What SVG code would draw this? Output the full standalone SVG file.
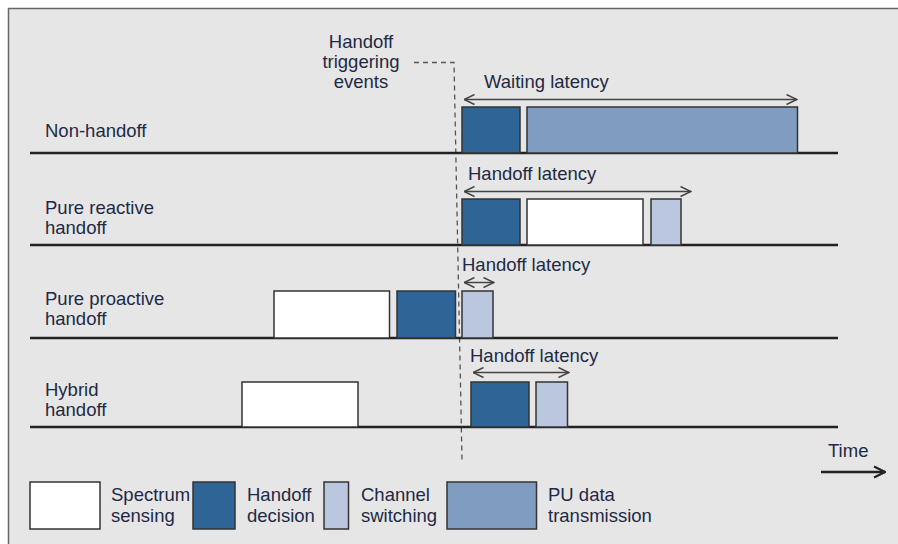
<svg xmlns="http://www.w3.org/2000/svg" width="898" height="544" viewBox="0 0 898 544">
  <defs>
    <style>
      .t { font-family: "Liberation Sans", Arial, sans-serif; font-size: 18.5px; fill: #1e2a45; }
      .base { stroke: #222; stroke-width: 2.5; fill: none; }
      .box { stroke: #333; stroke-width: 1.5; }
      .sense { fill: #ffffff; }
      .dec { fill: #2e6496; }
      .sw { fill: #bac7df; }
      .pu { fill: #819cc1; }
      .lat { stroke: #444; stroke-width: 1.5; fill: none; marker-start: url(#chev); marker-end: url(#chev); }
    </style>
    <marker id="chev" viewBox="0 0 12 12" refX="11.5" refY="6" markerWidth="12" markerHeight="12" markerUnits="userSpaceOnUse" orient="auto-start-reverse">
      <path d="M1,1 L11.5,6 L1,11" fill="none" stroke="#444" stroke-width="1.5"/>
    </marker>
    <marker id="timeArrow" viewBox="0 0 14 14" refX="13" refY="7" markerWidth="14" markerHeight="14" markerUnits="userSpaceOnUse" orient="auto">
      <path d="M2,1.5 L13,7 L2,12.5" fill="none" stroke="#222" stroke-width="2.2"/>
    </marker>
  </defs>

  <!-- background frame -->
  <rect x="0" y="0" width="898" height="544" fill="#ffffff"/>
  <rect x="8.5" y="8.5" width="900" height="540" fill="#e6e6e6" stroke="#666" stroke-width="1.5"/>

  <g id="connectors">
    <!-- trigger dashed line -->
    <path d="M414,62.5 L454,62.5 L462,460" fill="none" stroke="#555" stroke-width="1.3" stroke-dasharray="5,4"/>
    <!-- time baselines -->
    <line class="base" x1="30" y1="153" x2="838" y2="153"/>
    <line class="base" x1="30" y1="245" x2="838" y2="245"/>
    <line class="base" x1="30" y1="338" x2="838" y2="338"/>
    <line class="base" x1="30" y1="427" x2="838" y2="427"/>
    <!-- latency arrows -->
    <line class="lat" x1="464" y1="99.5" x2="797" y2="99.5"/>
    <line class="lat" x1="464" y1="191.5" x2="691" y2="191.5"/>
    <line class="lat" x1="464" y1="282.5" x2="494" y2="282.5"/>
    <line class="lat" x1="473" y1="372.5" x2="569" y2="372.5"/>
    <!-- time arrow -->
    <line x1="821" y1="472" x2="885" y2="472" stroke="#222" stroke-width="2.5" marker-end="url(#timeArrow)"/>
  </g>

  <g id="trigger-label">
    <text class="t" x="361" y="48" text-anchor="middle">Handoff</text>
    <text class="t" x="361" y="68" text-anchor="middle">triggering</text>
    <text class="t" x="361" y="88" text-anchor="middle">events</text>
  </g>

  <g id="row-nonhandoff">
    <text class="t" x="45" y="137">Non-handoff</text>
    <rect class="box dec" x="462" y="107" width="58" height="46"/>
    <rect class="box pu" x="527" y="107" width="270.5" height="46"/>
    <text class="t" x="484" y="88">Waiting latency</text>
  </g>

  <g id="row-reactive">
    <text class="t" x="45" y="214">Pure reactive</text>
    <text class="t" x="45" y="234">handoff</text>
    <rect class="box dec" x="462" y="199" width="58" height="46"/>
    <rect class="box sense" x="527" y="199" width="116" height="46"/>
    <rect class="box sw" x="651" y="199" width="30" height="46"/>
    <text class="t" x="468" y="180">Handoff latency</text>
  </g>

  <g id="row-proactive">
    <text class="t" x="45" y="305">Pure proactive</text>
    <text class="t" x="45" y="325">handoff</text>
    <rect class="box sense" x="274" y="291" width="115.5" height="47"/>
    <rect class="box dec" x="397" y="291" width="58.5" height="47"/>
    <rect class="box sw" x="462" y="291" width="31" height="47"/>
    <text class="t" x="462" y="271">Handoff latency</text>
  </g>

  <g id="row-hybrid">
    <text class="t" x="45" y="396">Hybrid</text>
    <text class="t" x="45" y="416">handoff</text>
    <rect class="box sense" x="242" y="382" width="116" height="45"/>
    <rect class="box dec" x="471" y="382" width="58" height="45"/>
    <rect class="box sw" x="536" y="382" width="31.5" height="45"/>
    <text class="t" x="470" y="362">Handoff latency</text>
  </g>

  <g id="time-label">
    <text class="t" x="828" y="457">Time</text>
  </g>

  <g id="legend">
    <g id="legend-sensing">
      <rect class="box sense" x="30" y="482" width="70" height="47"/>
      <text class="t" x="111" y="501">Spectrum</text>
      <text class="t" x="111" y="522">sensing</text>
    </g>
    <g id="legend-decision">
      <rect class="box dec" x="193" y="482" width="42" height="47"/>
      <text class="t" x="247" y="501">Handoff</text>
      <text class="t" x="247" y="522">decision</text>
    </g>
    <g id="legend-switching">
      <rect class="box sw" x="324" y="482" width="24.5" height="47"/>
      <text class="t" x="361" y="501">Channel</text>
      <text class="t" x="361" y="522">switching</text>
    </g>
    <g id="legend-pu">
      <rect class="box pu" x="447" y="482" width="89.5" height="47"/>
      <text class="t" x="548" y="501">PU data</text>
      <text class="t" x="548" y="522">transmission</text>
    </g>
  </g>
</svg>
